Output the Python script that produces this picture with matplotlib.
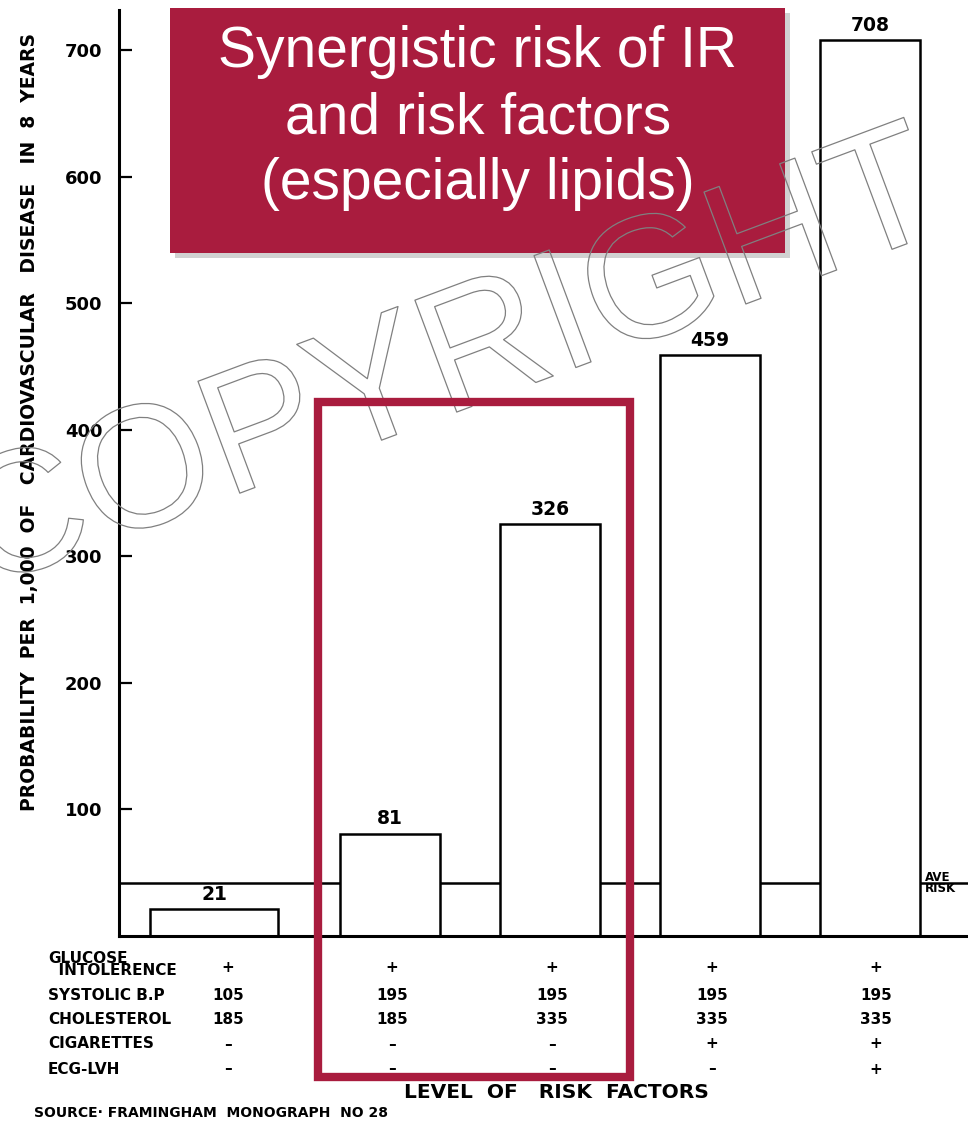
import matplotlib
matplotlib.use("Agg")
import matplotlib.pyplot as plt
from matplotlib.patches import Rectangle
import matplotlib.patheffects as pe

# ---- data ----
categories = ["Level 1", "Level 2", "Level 3", "Level 4", "Level 5"]
values = [21, 81, 326, 459, 708]
average_risk = 42
row_labels = ["GLUCOSE\n  INTOLERENCE", "SYSTOLIC B.P", "CHOLESTEROL", "CIGARETTES", "ECG-LVH"]
glucose = ["+", "+", "+", "+", "+"]
systolic = ["105", "195", "195", "195", "195"]
cholesterol = ["185", "185", "335", "335", "335"]
cigarettes = ["\u2013", "\u2013", "\u2013", "+", "+"]
ecg_lvh = ["\u2013", "\u2013", "\u2013", "\u2013", "+"]
yticks = [100, 200, 300, 400, 500, 600, 700]

# ---- layout ----
W, H = 968, 1124
xpos = [0, 1.1, 2.1, 3.1, 4.1]
widths = [0.8, 0.625, 0.625, 0.625, 0.625]
RED = "#A91C3E"
FONT = ["DejaVu Sans"]

fig = plt.figure(figsize=(W / 100, H / 100), dpi=100)
fig.patch.set_facecolor("white")

def fx(px):
    return px / W

def fy(py):
    return 1 - py / H

ax = fig.add_axes([fx(119), fy(936), 1 - fx(119), (936 - 10) / H])
ax.set_xlim(-0.594, 4.7125)
ax.set_ylim(0, 732)
for s in ["top", "right"]:
    ax.spines[s].set_visible(False)
ax.spines["left"].set_linewidth(2.2)
ax.spines["bottom"].set_linewidth(2.2)
ax.set_xticks([])
ax.set_yticks(yticks)
ax.set_yticklabels([str(t) for t in yticks], fontsize=13, fontweight="bold",
                   family=FONT)
ax.tick_params(axis="y", direction="in", length=9, width=1.6, pad=12)

# average risk line
ax.axhline(average_risk, color="black", lw=1.8, zorder=1)

bars = ax.bar(xpos, values, width=widths, facecolor="white", edgecolor="black",
              linewidth=1.8, zorder=2)
for x, v in zip(xpos, values):
    ax.text(x, v + 4, str(v), ha="center", va="bottom", fontsize=13.5,
            fontweight="bold", family=FONT, zorder=3)

ax.text(4.1 + 0.3125 + 0.03, average_risk, "AVE\nRISK", ha="left",
        va="center", fontsize=8.5, fontweight="bold", family=FONT,
        linespacing=0.85, clip_on=False)

# y label
fig.text(fx(30), fy(422), "PROBABILITY  PER  1,000  OF   CARDIOVASCULAR   DISEASE   IN  8  YEARS",
         rotation=90, ha="center", va="center", fontsize=13.5, fontweight="bold",
         family=FONT)

# table under the axis
col_px = [228, 392, 552, 712, 876]
rows = [glucose, systolic, cholesterol, cigarettes, ecg_lvh]
row_y = [968, 995, 1020, 1044, 1069]
for lab, vals, y in zip(row_labels, rows, row_y):
    if "\n" in lab:
        fig.text(fx(48), fy(y + 10), lab, ha="left", va="bottom", fontsize=11,
                 fontweight="bold", family=FONT, linespacing=0.75)
    else:
        fig.text(fx(48), fy(y), lab, ha="left", va="center", fontsize=11,
                 fontweight="bold", family=FONT)
    for cx, v in zip(col_px, vals):
        fig.text(fx(cx), fy(y), v, ha="center", va="center", fontsize=11,
                 fontweight="bold", family=FONT)

fig.text(fx(556), fy(1092), "LEVEL  OF   RISK  FACTORS", ha="center", va="center",
         fontsize=14.5, fontweight="bold", family=FONT)
fig.text(fx(34), fy(1113), "SOURCE\u00b7 FRAMINGHAM  MONOGRAPH  NO 28", ha="left",
         va="center", fontsize=10, fontweight="bold", family=FONT)

# title box with shadow
fig.add_artist(Rectangle((fx(175), fy(258)), fx(615), 245 / H, transform=fig.transFigure,
                         facecolor="#999999", alpha=0.45, edgecolor="none", zorder=11))
fig.add_artist(Rectangle((fx(170), fy(253)), fx(615), 245 / H, transform=fig.transFigure,
                         facecolor=RED, edgecolor="none", zorder=12))
fig.text(fx(478), fy(118), "Synergistic risk of IR\nand risk factors\n(especially lipids)",
         ha="center", va="center", color="white", fontsize=41, family="Liberation Sans",
         linespacing=1.28, zorder=13)

# watermark (above title box, below highlight rectangle)
fig.text(fx(450), fy(366), "COPYRIGHT", rotation=20.5, ha="center", va="center",
         fontsize=125, color="none", family="Liberation Sans", zorder=14,
         path_effects=[pe.withStroke(linewidth=0.9, foreground="#808080")])

# highlight rectangle
fig.add_artist(Rectangle((fx(318), fy(1077)), fx(634 - 318 - 4), (1077 - 402) / H,
                         transform=fig.transFigure, fill=False, edgecolor=RED,
                         linewidth=6, zorder=15))

fig.savefig("out.png", dpi=100)
